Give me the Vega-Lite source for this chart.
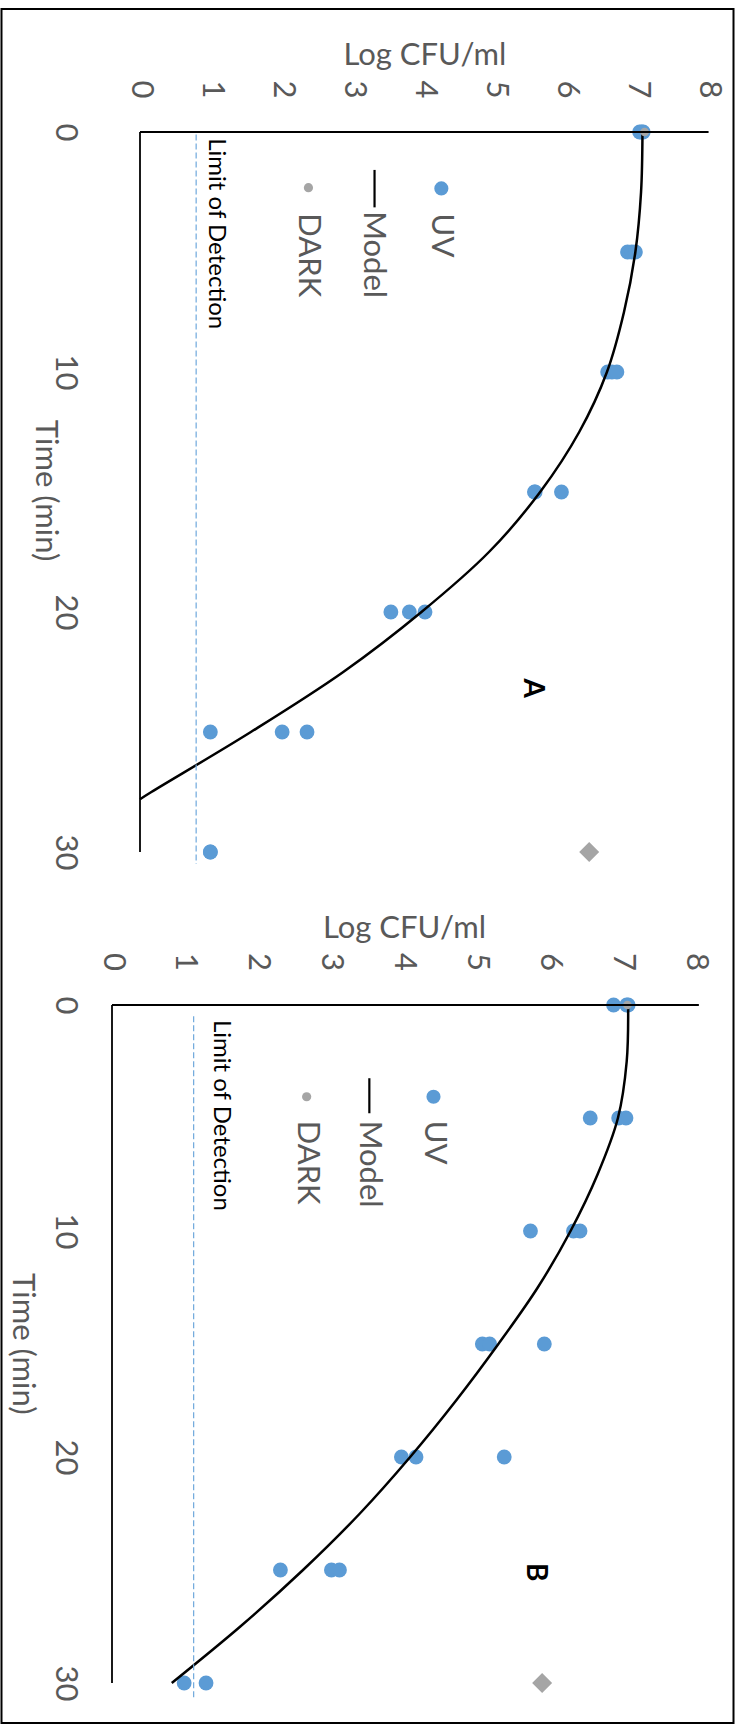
{
  "$schema": "https://vega.github.io/schema/vega-lite/v6.json",
  "padding": {"left": 0, "top": 8, "right": 0, "bottom": 0},
  "background": "white",
  "bounds": "flush",
  "spacing": 153,
  "config": {
    "view": {"stroke": null},
    "font": "Lato",
    "axis": {"grid": false, "domain": false, "ticks": false, "tickSize": 0, "labelFont": "Lato", "titleFont": "Lato", "labelColor": "#595959", "titleColor": "#595959", "labelFontSize": 31, "titleFontSize": 31, "titleFontWeight": "normal", "labelOverlap": false, "labelFlush": false}
  },
  "vconcat": [
    {
      "width": 597,
      "height": 720,
      "layer": [
        {
          "data": {"values": [
            {"t": 0, "log": 7.03}, {"t": 0, "log": 7.06}, {"t": 0, "log": 7.08},
            {"t": 5, "log": 6.86}, {"t": 5, "log": 6.92}, {"t": 5, "log": 6.97},
            {"t": 10, "log": 6.58}, {"t": 10, "log": 6.64}, {"t": 10, "log": 6.71},
            {"t": 15, "log": 5.55}, {"t": 15, "log": 5.56}, {"t": 15, "log": 5.93},
            {"t": 20, "log": 3.53}, {"t": 20, "log": 3.79}, {"t": 20, "log": 4.01},
            {"t": 25, "log": 0.99}, {"t": 25, "log": 2.0}, {"t": 25, "log": 2.35},
            {"t": 30, "log": 0.99}, {"t": 30, "log": 0.99}
          ]},
          "mark": {"type": "circle", "color": "#5B9BD5", "opacity": 1, "size": 220},
          "encoding": {
            "x": {"field": "log", "type": "quantitative", "scale": {"domain": [-0.394, 8.006], "nice": false, "zero": false},
              "axis": {"orient": "top", "values": [0, 1, 2, 3, 4, 5, 6, 7, 8], "format": "d", "labelAngle": 90, "labelAlign": "right", "labelBaseline": "middle", "labelPadding": 34, "title": "Log CFU/ml", "titleAngle": 0, "titleX": 312.4, "titleY": -68, "titleAlign": "center", "titleBaseline": "alphabetic"}},
            "y": {"field": "t", "type": "quantitative", "scale": {"domain": [0, 30], "nice": false, "reverse": true},
              "axis": {"orient": "left", "values": [0, 10, 20, 30], "format": "d", "labelAngle": 90, "labelAlign": "center", "labelBaseline": "middle", "labelPadding": 47.5, "title": "Time (min)", "titleAngle": 90, "titleX": -67.8, "titleY": 358, "titleAlign": "center", "titleBaseline": "middle"}}
          }
        },
        {
          "data": {"values": [
            {"t": 0, "log": 7.07}, {"t": 2.5, "log": 7.05}, {"t": 5, "log": 6.97}, {"t": 7.5, "log": 6.81},
            {"t": 10, "log": 6.57}, {"t": 12.5, "log": 6.18}, {"t": 15, "log": 5.63}, {"t": 17.5, "log": 4.91},
            {"t": 20, "log": 3.96}, {"t": 22.5, "log": 2.86}, {"t": 25, "log": 1.56}, {"t": 27.5, "log": 0.16},
            {"t": 27.8, "log": 0}
          ]},
          "mark": {"type": "line", "color": "black", "strokeWidth": 2.5, "interpolate": "catmull-rom"},
          "encoding": {
            "x": {"field": "log", "type": "quantitative"},
            "y": {"field": "t", "type": "quantitative"},
            "order": {"field": "t", "type": "quantitative"}
          }
        },
        {
          "data": {"values": [{"t": 0, "log": 7.1}]},
          "mark": {"type": "circle", "color": "#A5A5A5", "opacity": 1, "size": 75},
          "encoding": {"x": {"field": "log", "type": "quantitative"}, "y": {"field": "t", "type": "quantitative"}}
        },
        {
          "data": {"values": [{"t": 30, "log": 6.32}]},
          "mark": {"type": "point", "shape": "diamond", "filled": true, "color": "#A5A5A5", "opacity": 1, "size": 400},
          "encoding": {"x": {"field": "log", "type": "quantitative"}, "y": {"field": "t", "type": "quantitative"}}
        },
        {
          "data": {"values": [{}]},
          "mark": {"type": "rule", "color": "black", "strokeWidth": 1.8},
          "encoding": {"x": {"datum": 0}, "x2": {"datum": 8}, "y": {"datum": 0}}
        },
        {
          "data": {"values": [{}]},
          "mark": {"type": "rule", "color": "black", "strokeWidth": 1.8},
          "encoding": {"x": {"datum": 0}, "y": {"datum": 0}, "y2": {"datum": 30}}
        },
        {
          "data": {"values": [{}]},
          "mark": {"type": "rule", "color": "#6FA8DC", "strokeWidth": 1.2, "strokeDash": [6, 3]},
          "encoding": {"x": {"datum": 0.79}, "y": {"datum": 0.1}, "y2": {"datum": 30.5}}
        },
        {
          "data": {"values": [{}]},
          "mark": {"type": "text", "angle": 90, "align": "left", "baseline": "middle", "font": "Lato", "fontSize": 24, "color": "black"},
          "encoding": {"x": {"datum": 1.07}, "y": {"datum": 0.26}, "text": {"value": "Limit of Detection"}}
        },
        {
          "data": {"values": [{}]},
          "mark": {"type": "circle", "color": "#5B9BD5", "opacity": 1, "size": 200},
          "encoding": {"x": {"datum": 4.24}, "y": {"datum": 2.35}}
        },
        {
          "data": {"values": [{}]},
          "mark": {"type": "text", "angle": 90, "align": "left", "baseline": "middle", "font": "Lato", "fontSize": 31, "color": "#595959"},
          "encoding": {"x": {"datum": 4.24}, "y": {"datum": 3.4}, "text": {"value": "UV"}}
        },
        {
          "data": {"values": [{}]},
          "mark": {"type": "rule", "color": "black", "strokeWidth": 2.2},
          "encoding": {"x": {"datum": 3.3}, "y": {"datum": 1.58}, "y2": {"datum": 3.14}}
        },
        {
          "data": {"values": [{}]},
          "mark": {"type": "text", "angle": 90, "align": "left", "baseline": "middle", "font": "Lato", "fontSize": 31, "color": "#595959"},
          "encoding": {"x": {"datum": 3.28}, "y": {"datum": 3.3}, "text": {"value": "Model"}}
        },
        {
          "data": {"values": [{}]},
          "mark": {"type": "circle", "color": "#A5A5A5", "opacity": 1, "size": 85},
          "encoding": {"x": {"datum": 2.37}, "y": {"datum": 2.32}}
        },
        {
          "data": {"values": [{}]},
          "mark": {"type": "text", "angle": 90, "align": "left", "baseline": "middle", "font": "Lato", "fontSize": 31, "color": "#595959"},
          "encoding": {"x": {"datum": 2.37}, "y": {"datum": 3.39}, "text": {"value": "DARK"}}
        },
        {
          "data": {"values": [{}]},
          "mark": {"type": "text", "angle": 90, "align": "center", "baseline": "middle", "font": "Lato", "fontSize": 28, "fontWeight": "bold", "color": "black"},
          "encoding": {"x": {"datum": 5.52}, "y": {"datum": 23.18}, "text": {"value": "A"}}
        },
        {
          "data": {"values": [{}]},
          "mark": {"type": "rect", "fill": "transparent", "stroke": "black", "strokeWidth": 2},
          "encoding": {"x": {"datum": -1.9488}, "x2": {"datum": 8.3508}, "y": {"datum": -5.125}, "y2": {"datum": 66.2917}}
        }
      ]
    },
    {
      "width": 597,
      "height": 678,
      "layer": [
        {
          "data": {"values": [
            {"t": 0, "log": 6.88}, {"t": 0, "log": 7.06}, {"t": 0, "log": 7.08},
            {"t": 5, "log": 6.56}, {"t": 5, "log": 6.95}, {"t": 5, "log": 7.05},
            {"t": 10, "log": 5.74}, {"t": 10, "log": 6.33}, {"t": 10, "log": 6.42},
            {"t": 15, "log": 5.08}, {"t": 15, "log": 5.18}, {"t": 15, "log": 5.93},
            {"t": 20, "log": 3.97}, {"t": 20, "log": 4.17}, {"t": 20, "log": 5.38},
            {"t": 25, "log": 2.31}, {"t": 25, "log": 3.01}, {"t": 25, "log": 3.12},
            {"t": 30, "log": 0.99}, {"t": 30, "log": 1.29}
          ]},
          "mark": {"type": "circle", "color": "#5B9BD5", "opacity": 1, "size": 220},
          "encoding": {
            "x": {"field": "log", "type": "quantitative", "scale": {"domain": [0, 8.189], "nice": false, "zero": false},
              "axis": {"orient": "top", "values": [0, 1, 2, 3, 4, 5, 6, 7, 8], "format": "d", "labelAngle": 90, "labelAlign": "right", "labelBaseline": "middle", "labelPadding": 34.5, "title": "Log CFU/ml", "titleAngle": 0, "titleX": 292, "titleY": -68, "titleAlign": "center", "titleBaseline": "alphabetic"}},
            "y": {"field": "t", "type": "quantitative", "scale": {"domain": [0, 30], "nice": false, "reverse": true},
              "axis": {"orient": "left", "values": [0, 10, 20, 30], "format": "d", "labelAngle": 90, "labelAlign": "center", "labelBaseline": "middle", "labelPadding": 48, "title": "Time (min)", "titleAngle": 90, "titleX": -90.5, "titleY": 338.3, "titleAlign": "center", "titleBaseline": "middle"}}
          }
        },
        {
          "data": {"values": [
            {"t": 0, "log": 7.08}, {"t": 2.5, "log": 7.06}, {"t": 5, "log": 6.94}, {"t": 7.5, "log": 6.66},
            {"t": 10, "log": 6.29}, {"t": 12.5, "log": 5.84}, {"t": 15, "log": 5.3}, {"t": 17.5, "log": 4.72},
            {"t": 20, "log": 4.09}, {"t": 22.5, "log": 3.4}, {"t": 25, "log": 2.62}, {"t": 27.5, "log": 1.76},
            {"t": 30, "log": 0.82}
          ]},
          "mark": {"type": "line", "color": "black", "strokeWidth": 2.5, "interpolate": "catmull-rom"},
          "encoding": {
            "x": {"field": "log", "type": "quantitative"},
            "y": {"field": "t", "type": "quantitative"},
            "order": {"field": "t", "type": "quantitative"}
          }
        },
        {
          "data": {"values": [{"t": 0, "log": 7.07}]},
          "mark": {"type": "circle", "color": "#A5A5A5", "opacity": 1, "size": 75},
          "encoding": {"x": {"field": "log", "type": "quantitative"}, "y": {"field": "t", "type": "quantitative"}}
        },
        {
          "data": {"values": [{"t": 30, "log": 5.9}]},
          "mark": {"type": "point", "shape": "diamond", "filled": true, "color": "#A5A5A5", "opacity": 1, "size": 400},
          "encoding": {"x": {"field": "log", "type": "quantitative"}, "y": {"field": "t", "type": "quantitative"}}
        },
        {
          "data": {"values": [{}]},
          "mark": {"type": "rule", "color": "black", "strokeWidth": 1.8},
          "encoding": {"x": {"datum": 0}, "x2": {"datum": 8.05}, "y": {"datum": 0}}
        },
        {
          "data": {"values": [{}]},
          "mark": {"type": "rule", "color": "black", "strokeWidth": 1.8},
          "encoding": {"x": {"datum": 0}, "y": {"datum": 0}, "y2": {"datum": 30}}
        },
        {
          "data": {"values": [{}]},
          "mark": {"type": "rule", "color": "#6FA8DC", "strokeWidth": 1.2, "strokeDash": [6, 3]},
          "encoding": {"x": {"datum": 1.12}, "y": {"datum": 0.5}, "y2": {"datum": 30.7}}
        },
        {
          "data": {"values": [{}]},
          "mark": {"type": "text", "angle": 90, "align": "left", "baseline": "middle", "font": "Lato", "fontSize": 24, "color": "black"},
          "encoding": {"x": {"datum": 1.49}, "y": {"datum": 0.66}, "text": {"value": "Limit of Detection"}}
        },
        {
          "data": {"values": [{}]},
          "mark": {"type": "circle", "color": "#5B9BD5", "opacity": 1, "size": 200},
          "encoding": {"x": {"datum": 4.41}, "y": {"datum": 4.06}}
        },
        {
          "data": {"values": [{}]},
          "mark": {"type": "text", "angle": 90, "align": "left", "baseline": "middle", "font": "Lato", "fontSize": 31, "color": "#595959"},
          "encoding": {"x": {"datum": 4.41}, "y": {"datum": 5.12}, "text": {"value": "UV"}}
        },
        {
          "data": {"values": [{}]},
          "mark": {"type": "rule", "color": "black", "strokeWidth": 2.2},
          "encoding": {"x": {"datum": 3.53}, "y": {"datum": 3.24}, "y2": {"datum": 4.79}}
        },
        {
          "data": {"values": [{}]},
          "mark": {"type": "text", "angle": 90, "align": "left", "baseline": "middle", "font": "Lato", "fontSize": 31, "color": "#595959"},
          "encoding": {"x": {"datum": 3.52}, "y": {"datum": 5.12}, "text": {"value": "Model"}}
        },
        {
          "data": {"values": [{}]},
          "mark": {"type": "circle", "color": "#A5A5A5", "opacity": 1, "size": 85},
          "encoding": {"x": {"datum": 2.67}, "y": {"datum": 4.06}}
        },
        {
          "data": {"values": [{}]},
          "mark": {"type": "text", "angle": 90, "align": "left", "baseline": "middle", "font": "Lato", "fontSize": 31, "color": "#595959"},
          "encoding": {"x": {"datum": 2.67}, "y": {"datum": 5.12}, "text": {"value": "DARK"}}
        },
        {
          "data": {"values": [{}]},
          "mark": {"type": "text", "angle": 90, "align": "center", "baseline": "middle", "font": "Lato", "fontSize": 28, "fontWeight": "bold", "color": "black"},
          "encoding": {"x": {"datum": 5.8}, "y": {"datum": 25.1}, "text": {"value": "B"}}
        }
      ]
    }
  ]
}
